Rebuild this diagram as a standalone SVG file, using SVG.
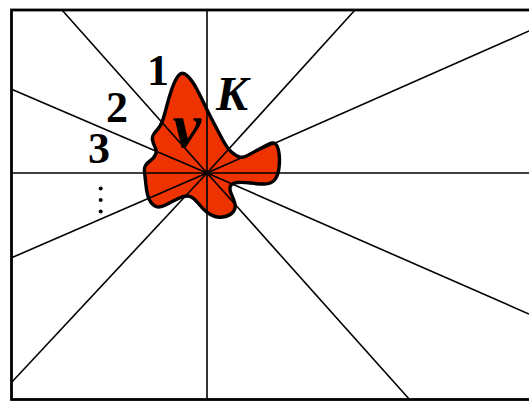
<svg xmlns="http://www.w3.org/2000/svg" width="529" height="401" viewBox="0 0 529 401">
<style>
.ray{stroke:#000;stroke-width:1.6;fill:none}
.lbl{font-family:"Liberation Serif",serif;font-weight:bold;fill:#000}
.it{font-style:italic}
</style>
<rect x="0" y="0" width="529" height="401" fill="#fff"/>
<g id="blob">
<path d="M178.5,75.5 Q182,71 187,75.5 Q192,80 196.5,88.5 Q201,97 204.5,104.5 Q208,112 213,121.5 Q218,131 222.5,139.5 Q227,148 231.5,152 Q236,156 239.5,157 Q243,158 247.5,155.5 Q252,153 258.5,149.5 Q265,146 269,144 Q273,142 275.5,144 Q278,146 279,153 Q280,160 279,168 Q278,176 274.5,180 Q271,184 264.5,184 Q258,184 250.5,183 Q243,182 237.5,182.5 Q232,183 230.5,186 Q229,189 231.5,194.5 Q234,200 235,204 Q236,208 233.5,211.5 Q231,215 225.5,216.5 Q220,218 215,216.5 Q210,215 206,211.5 Q202,208 198,203 Q194,198 190,196.5 Q186,195 179.5,198 Q173,201 166.5,204.5 Q160,208 156,206.5 Q152,205 149.5,200 Q147,195 146,185.5 Q145,176 144.5,172 Q144,168 145.5,165.5 Q147,163 150.5,160.5 Q154,158 155.5,154.5 Q157,151 155,147 Q153,143 152.5,140 Q152,137 153.5,134.5 Q155,132 157.5,129.5 Q160,127 162,122 Q164,117 166.5,107 Q169,97 172,88.5 Q175,80 178.5,75.5 Z" fill="#ee3300" stroke="none"/>
</g>
<g id="rays">
<line class="ray" x1="207" y1="10" x2="207" y2="400"/>
<line class="ray" x1="11" y1="173" x2="529" y2="173"/>
<line class="ray" x1="207" y1="173" x2="62" y2="10"/>
<line class="ray" x1="207" y1="173" x2="11" y2="89"/>
<line class="ray" x1="207" y1="173" x2="11" y2="258"/>
<line class="ray" x1="207" y1="173" x2="11" y2="383"/>
<line class="ray" x1="207" y1="173" x2="355" y2="10"/>
<line class="ray" x1="207" y1="173" x2="529" y2="31"/>
<line class="ray" x1="207" y1="173" x2="529" y2="314"/>
<line class="ray" x1="207" y1="173" x2="410" y2="400"/>
</g>
<g id="blob-outline">
<path d="M178.5,75.5 Q182,71 187,75.5 Q192,80 196.5,88.5 Q201,97 204.5,104.5 Q208,112 213,121.5 Q218,131 222.5,139.5 Q227,148 231.5,152 Q236,156 239.5,157 Q243,158 247.5,155.5 Q252,153 258.5,149.5 Q265,146 269,144 Q273,142 275.5,144 Q278,146 279,153 Q280,160 279,168 Q278,176 274.5,180 Q271,184 264.5,184 Q258,184 250.5,183 Q243,182 237.5,182.5 Q232,183 230.5,186 Q229,189 231.5,194.5 Q234,200 235,204 Q236,208 233.5,211.5 Q231,215 225.5,216.5 Q220,218 215,216.5 Q210,215 206,211.5 Q202,208 198,203 Q194,198 190,196.5 Q186,195 179.5,198 Q173,201 166.5,204.5 Q160,208 156,206.5 Q152,205 149.5,200 Q147,195 146,185.5 Q145,176 144.5,172 Q144,168 145.5,165.5 Q147,163 150.5,160.5 Q154,158 155.5,154.5 Q157,151 155,147 Q153,143 152.5,140 Q152,137 153.5,134.5 Q155,132 157.5,129.5 Q160,127 162,122 Q164,117 166.5,107 Q169,97 172,88.5 Q175,80 178.5,75.5 Z" fill="none" stroke="#000" stroke-width="3.4" stroke-linejoin="round"/>
</g>
<rect id="frame" x="11.5" y="10" width="530" height="389.5" fill="none" stroke="#000" stroke-width="2.8"/>
<g id="labels">
<text class="lbl" x="158" y="85" font-size="44" text-anchor="middle">1</text>
<text class="lbl" x="117" y="122" font-size="44" text-anchor="middle">2</text>
<text class="lbl" x="99" y="163" font-size="44" text-anchor="middle">3</text>
<text class="lbl it" x="216" y="110" font-size="48">K</text>
<text class="lbl it" x="187" y="147" font-size="64" text-anchor="middle">v</text>
<circle cx="100.7" cy="188.5" r="2" fill="#000"/>
<circle cx="100.7" cy="200" r="2" fill="#000"/>
<circle cx="100.7" cy="211.5" r="2" fill="#000"/>
</g>
</svg>
